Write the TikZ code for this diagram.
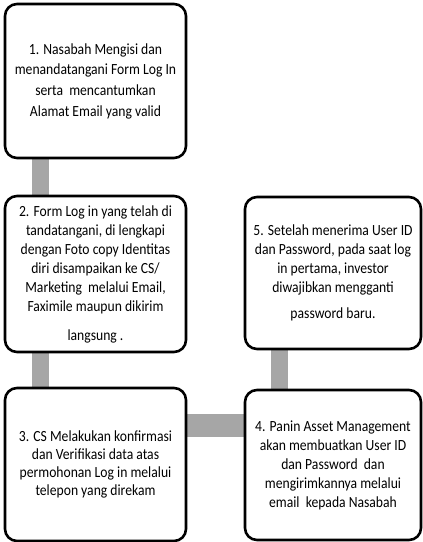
\documentclass[tikz,border=0pt]{standalone}
\usepackage{fontspec}
\setmainfont[FakeStretch=0.88]{Carlito}
\usetikzlibrary{backgrounds}
\definecolor{connGray}{RGB}{166,166,166}
\begin{document}
\begin{tikzpicture}[x=1pt,y=-1pt,
  box/.style={draw=black, line width=2.6pt, rounded corners=12pt, fill=white,
    align=center, inner sep=0pt, font=\fontsize{15.5}{19}\selectfont},
  conn/.style={draw=connGray, line width=17pt}]
\useasboundingbox (0,0) rectangle (423,542);
\node[box, minimum width=181pt, minimum height=154pt, font=\fontsize{15.5}{20.7}\selectfont] (b1) at (95.5,81)
  {1. Nasabah Mengisi dan\\menandatangani Form Log In\\serta\ \ mencantumkan\\Alamat Email yang valid};
\node[box, minimum width=181pt, minimum height=156pt] (b2) at (95.5,274)
  {2. Form Log in yang telah di\\tandatangani, di lengkapi\\dengan Foto copy Identitas\\diri disampaikan ke CS/\\Marketing\ \ melalui Email,\\Faximile maupun dikirim\\[10pt]langsung .};
\node[box, minimum width=181pt, minimum height=153pt, font=\fontsize{15.5}{18.2}\selectfont] (b3) at (95.5,464.5)
  {3. CS Melakukan konfirmasi\\dan Verifikasi data atas\\permohonan Log in melalui\\telepon yang direkam};
\node[box, minimum width=176pt, minimum height=150pt] (b4) at (333,465)
  {4. Panin Asset Management\\akan membuatkan User ID\\dan Password\ \ dan\\mengirimkannya melalui\\email\ \ kepada Nasabah};
\node[box, minimum width=176pt, minimum height=152pt] (b5) at (333,273)
  {5. Setelah menerima User ID\\dan Password, pada saat log\\in pertama, investor\\diwajibkan mengganti\\[7pt]password baru.};
\begin{pgfonlayer}{background}
  \coordinate (v1) at ([xshift=36.5pt]b1.south west);
  \draw[conn] (v1) -- (v1 |- b2.north);
  \coordinate (v2) at ([xshift=36.5pt]b2.south west);
  \draw[conn] (v2) -- (v2 |- b3.north);
  \coordinate (h1) at ([yshift=-38.5pt]b3.north east);
  \draw[conn, line width=23pt] (h1) -- (h1 -| b4.west);
  \coordinate (v3) at ([xshift=36pt]b5.south west);
  \draw[conn] (v3) -- (v3 |- b4.north);
\end{pgfonlayer}
\end{tikzpicture}
\end{document}
